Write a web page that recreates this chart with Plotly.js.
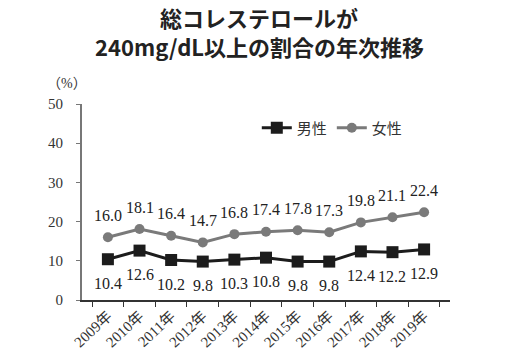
<!DOCTYPE html>
<html>
<head>
<meta charset="utf-8">
<script src="https://cdn.plot.ly/plotly-3.0.1.min.js"></script>
<style>html,body{margin:0;padding:0;background:#fff;}#chart{width:518px;height:363px;}</style>
</head>
<body>
<div id="chart"></div>
<script>
const years = ["2009年","2010年","2011年","2012年","2013年","2014年","2015年","2016年","2017年","2018年","2019年"];
const male = [10.4, 12.6, 10.2, 9.8, 10.3, 10.8, 9.8, 9.8, 12.4, 12.2, 12.9];
const female = [16.0, 18.1, 16.4, 14.7, 16.8, 17.4, 17.8, 17.3, 19.8, 21.1, 22.4];
const yTicks = [0, 10, 20, 30, 40, 50];
const titleLine1 = "総コレステロールが";
const titleLine2 = "240mg/dL以上の割合の年次推移";

const serif = "'Liberation Serif', Tinos, 'Times New Roman', 'DejaVu Serif', 'Noto Sans CJK JP', serif";
const gothic = "'Noto Sans CJK JP', sans-serif";
const maleColor = "#1c1c1c";
const femaleColor = "#7a7a7a";

const traces = [
  {x: years, y: male, name: "男性", type: "scatter", mode: "lines+markers",
   line: {color: maleColor, width: 3}, marker: {symbol: "square", size: 12, color: maleColor}},
  {x: years, y: female, name: "女性", type: "scatter", mode: "lines+markers",
   line: {color: femaleColor, width: 3}, marker: {symbol: "circle", size: 10, color: femaleColor}}
];

const annotations = [];
years.forEach((yr, i) => {
  annotations.push({x: yr, y: female[i], text: female[i].toFixed(1), showarrow: false,
    yshift: 22, font: {family: serif, size: 16, color: "#222"}});
  annotations.push({x: yr, y: male[i], text: male[i].toFixed(1), showarrow: false,
    yshift: -24, font: {family: serif, size: 16, color: "#222"}});
});
annotations.push({xref: "paper", yref: "paper", x: -0.04, y: 1.107, xanchor: "center", yanchor: "middle",
  text: "（%）", showarrow: false, font: {family: serif, size: 14, color: "#333"}});
annotations.push({xref: "paper", yref: "paper", x: 0.481, y: 1.296, xanchor: "center", yanchor: "middle",
  text: "<b>" + titleLine2 + "</b>", showarrow: false,
  font: {family: gothic, size: 22, color: "#222", weight: 900}});

const layout = {
  width: 518, height: 363,
  margin: {l: 82, r: 68, t: 104, b: 63},
  paper_bgcolor: "#fff", plot_bgcolor: "#fff",
  title: {text: "<b>" + titleLine1 + "</b>",
    x: 0.5, xanchor: "center", xref: "container", yref: "container", y: 0.948, yanchor: "middle",
    font: {family: gothic, size: 22, color: "#222", weight: 900}},
  showlegend: true,
  legend: {orientation: "h", x: 0.475, y: 0.878, xanchor: "left", yanchor: "middle",
    font: {family: gothic, size: 15, color: "#333"},
    bgcolor: "rgba(0,0,0,0)", tracegroupgap: 0},
  xaxis: {type: "category", tickson: "boundaries", ticks: "outside", ticklen: 5,
    tickcolor: "#333", showline: true, linecolor: "#333", linewidth: 1.5,
    showgrid: false, zeroline: false, tickangle: -43,
    tickfont: {family: serif, size: 15, color: "#333"}},
  yaxis: {range: [0, 50], tickvals: yTicks, ticks: "outside", ticklen: 4,
    tickcolor: "#777", showline: true, linecolor: "#777", linewidth: 2,
    showgrid: false, zeroline: false, ticklabelstandoff: 10,
    tickfont: {family: serif, size: 15, color: "#333"}},
  annotations: annotations
};

Plotly.newPlot("chart", traces, layout, {staticPlot: true, displayModeBar: false});
</script>
</body>
</html>
